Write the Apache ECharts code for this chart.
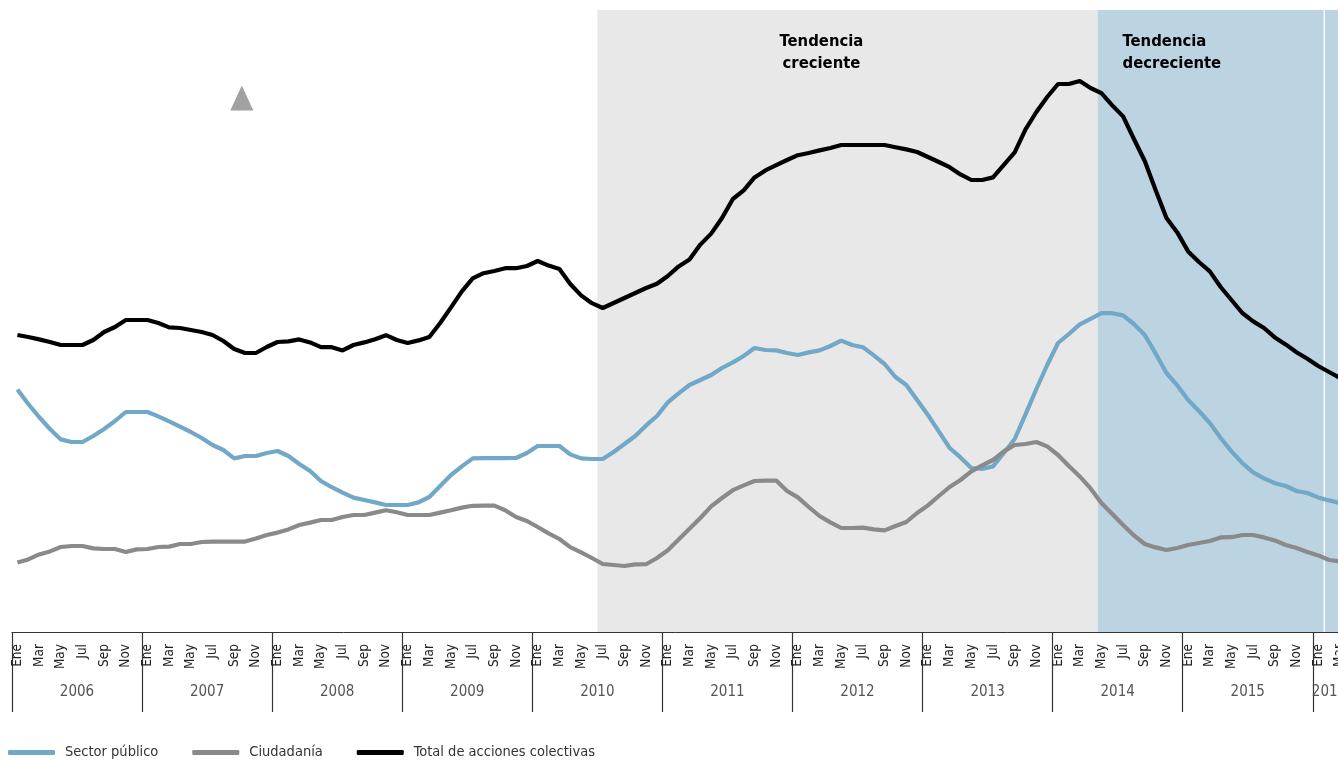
<!DOCTYPE html>
<html>
<head>
<meta charset="utf-8">
<script src="https://cdn.jsdelivr.net/npm/echarts@6/dist/echarts.min.js"></script>
<style>
  html, body { margin: 0; padding: 0; background: #fff; }
  #chart { width: 1338px; height: 761px; }
</style>
</head>
<body>
<div id="chart"></div>
<script>
// ---- data ----
const years = ['2006','2007','2008','2009','2010','2011','2012','2013','2014','2015','2016'];
const monthNames = ['Ene','Feb','Mar','Abr','May','Jun','Jul','Ago','Sep','Oct','Nov','Dic'];
const seriesNames = ['Sector público', 'Ciudadanía', 'Total de acciones colectivas'];

const sectorPublico = [121.3,114,107.5,101.5,96.3,95,95,98,101.5,105.5,110,110,
110,107.8,105.3,102.7,100,97,93.5,91,86.8,88,88,89.5,
90.5,88,84,80.5,75.5,72.4,69.7,67.2,66,64.8,63.5,63.5,
63.5,64.8,67.5,73,78.5,82.8,86.8,86.9,86.9,86.9,87,89.5,
93,93,93,88.8,86.8,86.5,86.5,90,94,98,103.3,108,
114.8,119.3,123.5,126,128.5,132,134.8,138,142,141,140.8,139.5,
138.5,139.8,140.8,143,145.7,143.5,142.4,138.3,134,127.5,123.5,116,
108.5,100.3,92,87.3,82,81.5,82.8,89.5,96.5,108.8,121.5,133.5,
144.5,149,153.8,156.6,159.4,159.4,158.3,154,148.5,139.3,129.5,123.3,
116,110.5,104.5,97,90.3,84.5,79.8,76.8,74.4,73,70.5,69.5,
67.3,65.8,64.5];

const ciudadania = [34.8,36.3,38.8,40.3,42.5,43,43,41.8,41.5,41.5,40,41.3,
41.5,42.5,42.7,44,44,45,45.2,45.2,45.2,45.2,46.7,48.5,
49.7,51.3,53.5,54.7,56,56,57.5,58.5,58.5,59.7,60.9,59.9,
58.5,58.5,58.5,59.7,60.9,62.2,63.1,63.2,63.2,60.9,57.5,55.5,
52.5,49.3,46.5,42.4,39.8,37,34,33.5,33,33.8,33.9,37,
40.9,46.3,51.6,57,62.8,67,70.9,73.3,75.5,75.7,75.7,70.5,
67.3,62.5,58,54.8,52,52,52.2,51.3,50.8,53,55,59.5,
63.3,68,72.5,76,80.3,83.3,86,90.3,93.5,94,95,92.8,
88.5,83,77.8,71.8,64.5,59,53.5,48.3,44,42.3,41,42,
43.5,44.5,45.5,47.3,47.4,48.5,48.5,47.3,45.8,43.5,42,40,
38.3,36,35.3];

const totalAcciones = [148.5,147.5,146.3,145,143.5,143.5,143.5,146,150,152.5,156,156,
156,154.5,152.3,152,151,150,148.5,145.5,141.5,139.5,139.5,142.5,
145,145.3,146.3,144.8,142.4,142.4,140.8,143.5,144.8,146.4,148.4,146,
144.5,145.8,147.5,154.5,162.3,170.3,176.8,179.4,180.5,181.9,181.9,183,
185.5,183.2,181.5,174,168.3,164.4,162,164.5,167,169.5,172,174.1,
178,182.8,186.3,193.7,199.2,207,216.5,220.8,227.3,230.8,233.4,236,
238.4,239.5,240.8,242,243.5,243.5,243.5,243.5,243.5,242.4,241.3,240,
237.5,235,232.4,228.8,226,226,227.3,233.6,239.8,251.3,260,267.5,
274,274,275.5,272,269.4,263.3,257.8,246.5,235.5,221,207,199.8,
190.3,185,180.3,172.5,166,159.5,155.3,152,147.3,143.8,139.9,136.6,
133,130,127];

// trend periods (in month index units from Ene 2006)
const trendCreciente = [54, 100.15];
const trendDecreciente = [100.15, 121];
const trendDecreciente2 = [121.12, 123];
const trendLabels = ['Tendencia\ncreciente', 'Tendencia\ndecreciente'];
const markerPoint = [21.2, 267];

// ---- build ----
const n = sectorPublico.length;
const categories = [];
for (let i = 0; i < n; i++) {
  categories.push(monthNames[i % 12] + ' ' + years[Math.floor(i / 12)]);
}
const yearCenters = {};
for (let y = 0; y * 12 < n; y++) {
  const s = y * 12, e = Math.min(s + 12, n);
  yearCenters[((s + e) / 2).toFixed(1)] = years[y];
}

const FONT = "'Liberation Sans Narrow', 'DejaVu Sans Condensed', 'Roboto', sans-serif";
const chart = echarts.init(document.getElementById('chart'));

const option = {
  animation: false,
  textStyle: { fontFamily: FONT },
  grid: { left: 12, right: -7.3, top: 10, bottom: 129, containLabel: false, outerBoundsMode: 'none' },
  legend: {
    data: seriesNames,
    left: 8, top: 745, padding: 0,
    icon: 'roundRect',
    itemWidth: 47, itemHeight: 5,
    itemGap: 34,
    textStyle: { fontSize: 14.5, color: '#333', fontFamily: FONT, padding: [0, 0, 0, 5] }
  },
  xAxis: [
    {
      type: 'category',
      data: categories,
      boundaryGap: true,
      axisLine: { show: true, lineStyle: { color: '#333', width: 1 } },
      axisTick: {
        show: true, length: 80,
        interval: (i) => i % 12 === 0,
        lineStyle: { color: '#333', width: 1.2 }
      },
      axisLabel: {
        interval: (i) => i % 2 === 0,
        formatter: (v) => v.split(' ')[0],
        rotate: 90, fontSize: 13.5, color: '#222', margin: 12, fontFamily: FONT
      },
      splitLine: { show: false }
    },
    {
      type: 'value',
      min: 0, max: n, interval: 1.5,
      position: 'bottom', offset: 49,
      axisLine: { show: false }, axisTick: { show: false }, splitLine: { show: false },
      axisLabel: {
        fontSize: 15, color: '#555', margin: 4, fontFamily: FONT,
        formatter: (v) => yearCenters[Number(v).toFixed(1)] || ''
      }
    }
  ],
  yAxis: { type: 'value', min: 0, max: 311, show: false },
  series: [
    {
      type: 'scatter',
      xAxisIndex: 1,
      symbol: 'triangle',
      symbolSize: [23, 25],
      itemStyle: { color: '#8a8a8a' },
      data: [markerPoint],
      silent: true,
      z: 1,
      markArea: {
        silent: true,
        data: [
          [{ xAxis: trendCreciente[0], itemStyle: { color: '#e8e8e8' },
             label: { show: true, position: 'insideTop', offset: [-26, 16], formatter: trendLabels[0],
                      fontSize: 16.5, fontWeight: 'bold', lineHeight: 22, color: '#000', align: 'center', fontFamily: FONT } },
           { xAxis: trendCreciente[1] }],
          [{ xAxis: trendDecreciente[0], itemStyle: { color: '#bcd3e1' },
             label: { show: true, position: 'insideTopLeft', offset: [20, 16], formatter: trendLabels[1],
                      fontSize: 16.5, fontWeight: 'bold', lineHeight: 22, color: '#000', align: 'left', fontFamily: FONT } },
           { xAxis: trendDecreciente[1] }],
          [{ xAxis: trendDecreciente2[0], itemStyle: { color: '#bcd3e1' }, label: { show: false } },
           { xAxis: trendDecreciente2[1] }]
        ]
      }
    },
    {
      name: seriesNames[0], type: 'line', data: sectorPublico, symbol: 'none', z: 3,
      lineStyle: { color: '#72a8c7', width: 4.2 }, itemStyle: { color: '#72a8c7' }
    },
    {
      name: seriesNames[1], type: 'line', data: ciudadania, symbol: 'none', z: 3,
      lineStyle: { color: '#8a8a8a', width: 4.2 }, itemStyle: { color: '#8a8a8a' }
    },
    {
      name: seriesNames[2], type: 'line', data: totalAcciones, symbol: 'none', z: 4,
      lineStyle: { color: '#000000', width: 4.2 }, itemStyle: { color: '#000000' }
    }
  ]
};
chart.setOption(option);
</script>
</body>
</html>
